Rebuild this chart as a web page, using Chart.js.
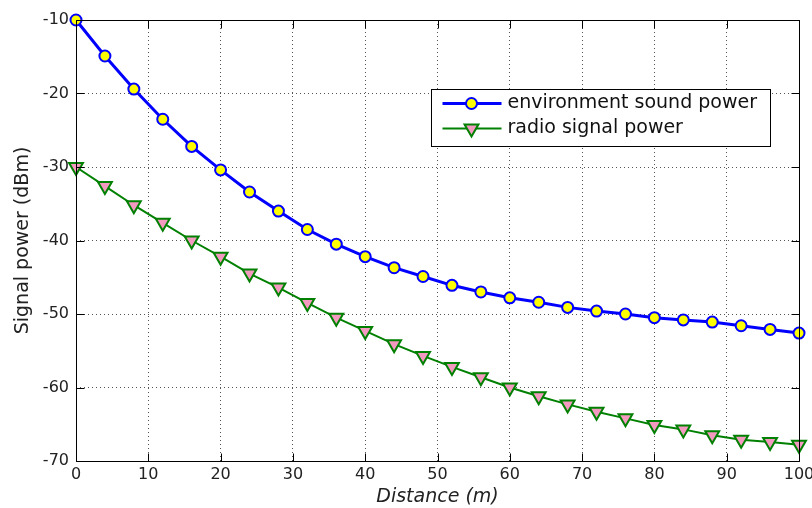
<!DOCTYPE html>
<html>
<head>
<meta charset="utf-8">
<script src="https://cdn.jsdelivr.net/npm/chart.js@4/dist/chart.umd.min.js"></script>
<style>
  html, body { margin: 0; padding: 0; background: #fff; }
  #c { display: block; }
</style>
</head>
<body>
<canvas id="c" width="812" height="508"></canvas>
<script>
const distances = [0, 4, 8, 12, 16, 20, 24, 28, 32, 36, 40, 44, 48, 52, 56, 60, 64, 68, 72, 76, 80, 84, 88, 92, 96, 100];
const envSoundPower = [-10, -14.9, -19.4, -23.5, -27.2, -30.4, -33.4, -36.0, -38.5, -40.5, -42.2, -43.7, -44.9, -46.1, -47.0, -47.8, -48.4, -49.1, -49.6, -50.0, -50.5, -50.8, -51.1, -51.6, -52.1, -52.6];
const radioSignalPower = [-30, -32.6, -35.2, -37.6, -40.0, -42.2, -44.5, -46.4, -48.5, -50.5, -52.3, -54.1, -55.7, -57.2, -58.6, -60.0, -61.2, -62.3, -63.3, -64.2, -65.1, -65.7, -66.5, -67.1, -67.4, -67.8];
const seriesLabels = ['environment sound power', 'radio signal power'];
const xTitle = 'Distance (m)';
const yTitle = 'Signal power (dBm)';

const FONT = "'DejaVu Sans', sans-serif";

const boxPlugin = {
  id: 'matlabBox',
  afterDatasetsDraw(chart) {
    const { ctx, chartArea: a, scales } = chart;
    ctx.save();
    ctx.strokeStyle = '#000';
    ctx.lineWidth = 1;
    const L = Math.round(a.left) + 0.5, R = Math.round(a.right) + 0.5;
    const T = Math.round(a.top) + 0.5, B = Math.round(a.bottom) + 0.5;
    ctx.beginPath();
    ctx.rect(L, T, R - L, B - T);
    ctx.stroke();
    const tl = 8;
    ctx.beginPath();
    scales.x.ticks.forEach(t => {
      const px = Math.round(scales.x.getPixelForValue(t.value)) + 0.5;
      ctx.moveTo(px, B); ctx.lineTo(px, B - tl);
      ctx.moveTo(px, T); ctx.lineTo(px, T + tl);
    });
    scales.y.ticks.forEach(t => {
      const py = Math.round(scales.y.getPixelForValue(t.value)) + 0.5;
      ctx.moveTo(L, py); ctx.lineTo(L + tl, py);
      ctx.moveTo(R, py); ctx.lineTo(R - tl, py);
    });
    ctx.stroke();
    ctx.restore();
  }
};

const legendPlugin = {
  id: 'matlabLegend',
  afterDraw(chart) {
    const { ctx, chartArea: a } = chart;
    const bx = Math.round(a.left + (a.right - a.left) * 0.491) + 0.5;
    const by = Math.round(a.top + (a.bottom - a.top) * 0.1565) + 0.5;
    const bw = 339, bh = 57;
    ctx.save();
    ctx.fillStyle = '#fff';
    ctx.fillRect(bx, by, bw, bh);
    ctx.strokeStyle = '#000';
    ctx.lineWidth = 1;
    ctx.strokeRect(bx, by, bw, bh);
    const rows = [by + 14, by + 39];
    chart.data.datasets.forEach((ds, i) => {
      const y = rows[i];
      const x0 = bx + 11, x1 = bx + 70, xm = bx + 40;
      ctx.strokeStyle = ds.borderColor;
      ctx.lineWidth = ds.borderWidth;
      ctx.beginPath();
      ctx.moveTo(x0, y); ctx.lineTo(x1, y);
      ctx.stroke();
      ctx.fillStyle = ds.pointBackgroundColor;
      ctx.strokeStyle = ds.pointBorderColor;
      ctx.lineWidth = ds.pointBorderWidth;
      ctx.beginPath();
      if (ds.pointStyle === 'circle') {
        ctx.arc(xm, y, ds.pointRadius, 0, Math.PI * 2);
      } else {
        const r = ds.pointRadius;
        ctx.moveTo(xm, y + r);
        ctx.lineTo(xm - r * Math.sqrt(3) / 2, y - r / 2);
        ctx.lineTo(xm + r * Math.sqrt(3) / 2, y - r / 2);
        ctx.closePath();
      }
      ctx.fill();
      ctx.stroke();
      ctx.fillStyle = '#111';
      ctx.font = "19px " + FONT;
      ctx.textBaseline = 'middle';
      ctx.textAlign = 'left';
      ctx.fillText(ds.label, bx + 76, y);
    });
    ctx.restore();
  }
};

const toPoints = (xs, ys) => xs.map((x, i) => ({ x: x, y: ys[i] }));

new Chart(document.getElementById('c'), {
  type: 'line',
  data: {
    datasets: [
      {
        label: seriesLabels[0],
        data: toPoints(distances, envSoundPower),
        borderColor: '#0000ff',
        borderWidth: 3,
        pointStyle: 'circle',
        pointRadius: 5.5,
        pointBorderWidth: 2,
        pointBackgroundColor: '#ffff00',
        pointBorderColor: '#0000ff',
        tension: 0,
        clip: false
      },
      {
        label: seriesLabels[1],
        data: toPoints(distances, radioSignalPower),
        borderColor: '#008000',
        borderWidth: 2,
        pointStyle: 'triangle',
        pointRotation: 180,
        pointRadius: 8,
        pointBorderWidth: 2,
        pointBackgroundColor: '#f49ac1',
        pointBorderColor: '#008000',
        tension: 0,
        clip: false
      }
    ]
  },
  options: {
    responsive: false,
    animation: false,
    events: [],
    layout: { padding: { top: 20, right: 13, left: 0, bottom: 0 } },
    plugins: { legend: { display: false }, tooltip: { enabled: false } },
    scales: {
      x: {
        type: 'linear',
        min: 0, max: 100,
        ticks: { stepSize: 10, padding: 4, color: '#222', font: { family: FONT, size: 16 }, maxRotation: 0 },
        grid: { color: '#555', lineWidth: 1, drawTicks: false },
        border: { display: false, dash: [1, 3] },
        title: { display: true, text: xTitle, color: '#222', font: { family: FONT, size: 19, style: 'italic' }, padding: { top: 0, bottom: 0 } },
        afterFit(scale) { scale.height = 47; scale.paddingLeft = 0; scale.paddingRight = 0; }
      },
      y: {
        type: 'linear',
        min: -70, max: -10,
        ticks: { stepSize: 10, padding: 7, color: '#222', font: { family: FONT, size: 16 } },
        grid: { color: '#555', lineWidth: 1, drawTicks: false },
        border: { display: false, dash: [1, 3] },
        title: { display: true, text: yTitle, color: '#222', font: { family: FONT, size: 19 }, padding: { top: 12, bottom: 0 } },
        afterFit(scale) { scale.width = 76; scale.paddingTop = 0; scale.paddingBottom = 0; }
      }
    }
  },
  plugins: [boxPlugin, legendPlugin]
});
</script>
</body>
</html>
